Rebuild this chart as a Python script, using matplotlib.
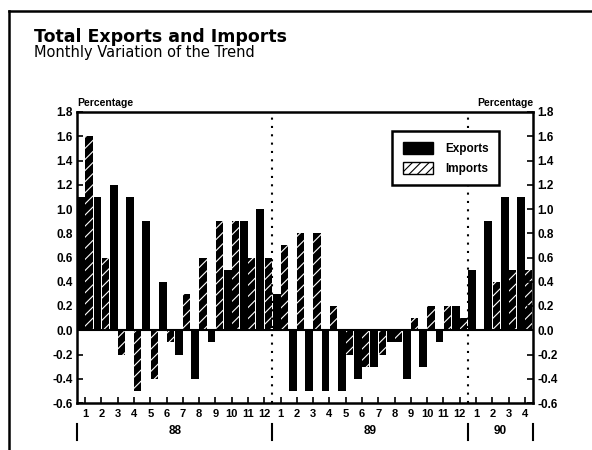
import matplotlib
matplotlib.use("Agg")
import matplotlib.pyplot as plt
from matplotlib.patches import Patch
from matplotlib.lines import Line2D
import numpy as np

plt.rcParams['font.family'] = ['Liberation Sans', 'DejaVu Sans']
plt.rcParams['hatch.linewidth'] = 0.8

month_labels = ["1","2","3","4","5","6","7","8","9","10","11","12",
                "1","2","3","4","5","6","7","8","9","10","11","12",
                "1","2","3","4"]
years = ["88", "89", "90"]
year_months = [12, 12, 4]
exports = [1.1, 1.1, 1.2, 1.1, 0.9, 0.4, -0.2, -0.4, -0.1, 0.5, 0.9, 1.0,
           0.3, -0.5, -0.5, -0.5, -0.5, -0.4, -0.3, -0.1, -0.4, -0.3, -0.1, 0.2,
           0.5, 0.9, 1.1, 1.1]
imports = [1.6, 0.6, -0.2, -0.5, -0.4, -0.1, 0.3, 0.6, 0.9, 0.9, 0.6, 0.6,
           0.7, 0.8, 0.8, 0.2, -0.2, -0.3, -0.2, -0.1, 0.1, 0.2, 0.2, 0.1,
           0.0, 0.4, 0.5, 0.5]
yticks = [-0.6, -0.4, -0.2, 0.0, 0.2, 0.4, 0.6, 0.8, 1.0, 1.2, 1.4, 1.6, 1.8]

fig = plt.figure(figsize=(5.92, 4.5), dpi=100)
ax = fig.add_axes([77/592, 1-403/450, (533-77)/592, (403-112)/450])

n = len(exports)
x = np.arange(n)
ax.bar(x + 0.02, exports, width=0.48, align='edge', color='black', linewidth=0)
ax.bar(x + 0.52, imports, width=0.44, align='edge', facecolor='black',
       edgecolor='white', hatch='///', linewidth=0)

ax.set_xlim(0, n)
ax.set_ylim(-0.6, 1.8)
ax.axhline(0, color='black', lw=1.5)

# dotted year separators
bounds = np.cumsum([0] + year_months)
for b in bounds[1:-1]:
    ax.axvline(b, color='black', lw=1.5, ls=(0, (1, 3)))

for s in ax.spines.values():
    s.set_linewidth(1.8)

ax.set_yticks(yticks)
ylabels = [f"{v:.1f}" for v in yticks]
ax.set_yticklabels(ylabels, fontsize=8.5, fontweight='bold')
ax.tick_params(axis='y', direction='in', length=4, width=1.2,
               left=True, right=True, labelleft=True, labelright=True, pad=3)
ax.set_xticks(x + 0.5)
ax.set_xticklabels(month_labels, fontsize=8, fontweight='bold')
ax.tick_params(axis='x', direction='in', length=4, width=1.2, pad=4)

# year labels and separators
for i, yr in enumerate(years):
    c = (bounds[i] + bounds[i+1]) / 2
    ax.text(c, -0.095, yr, transform=ax.get_xaxis_transform(), ha='center',
            va='center', fontsize=8.5, fontweight='bold')
for b in bounds:
    ax.add_line(Line2D([b, b], [-0.072, -0.127], transform=ax.get_xaxis_transform(),
                       color='black', lw=1.5, clip_on=False))

ax.text(0, 1.015, "Percentage", transform=ax.transAxes, ha='left', va='bottom',
        fontsize=7.5, fontweight='bold')
ax.text(1, 1.015, "Percentage", transform=ax.transAxes, ha='right', va='bottom',
        fontsize=7.5, fontweight='bold')

handles = [Patch(facecolor='black', edgecolor='black'),
           Patch(facecolor='white', edgecolor='black', hatch='////')]
leg = ax.legend(handles, ["Exports", "Imports"], loc='upper right',
                bbox_to_anchor=(0.939, 0.955), fancybox=False, framealpha=1,
                edgecolor='black', prop={'size': 8.5, 'weight': 'bold'},
                handlelength=2.6, handleheight=1.2, borderpad=0.9,
                labelspacing=0.6, handletextpad=1.0)
leg.get_frame().set_linewidth(1.8)

fig.text(34/592, 1-37/450, "Total Exports and Imports", fontsize=12.5,
         fontweight='bold', ha='left', va='center', family='DejaVu Sans')
fig.text(34/592, 1-52.5/450, "Monthly Variation of the Trend", fontsize=10.5,
         ha='left', va='center', family='DejaVu Sans')

# outer frame
fig.add_artist(Line2D([9/592, 1], [1-11/450, 1-11/450], transform=fig.transFigure,
                      color='black', lw=1.8))
fig.add_artist(Line2D([9/592, 9/592], [0, 1-11/450], transform=fig.transFigure,
                      color='black', lw=1.8))

fig.savefig("out.png", dpi=100)
